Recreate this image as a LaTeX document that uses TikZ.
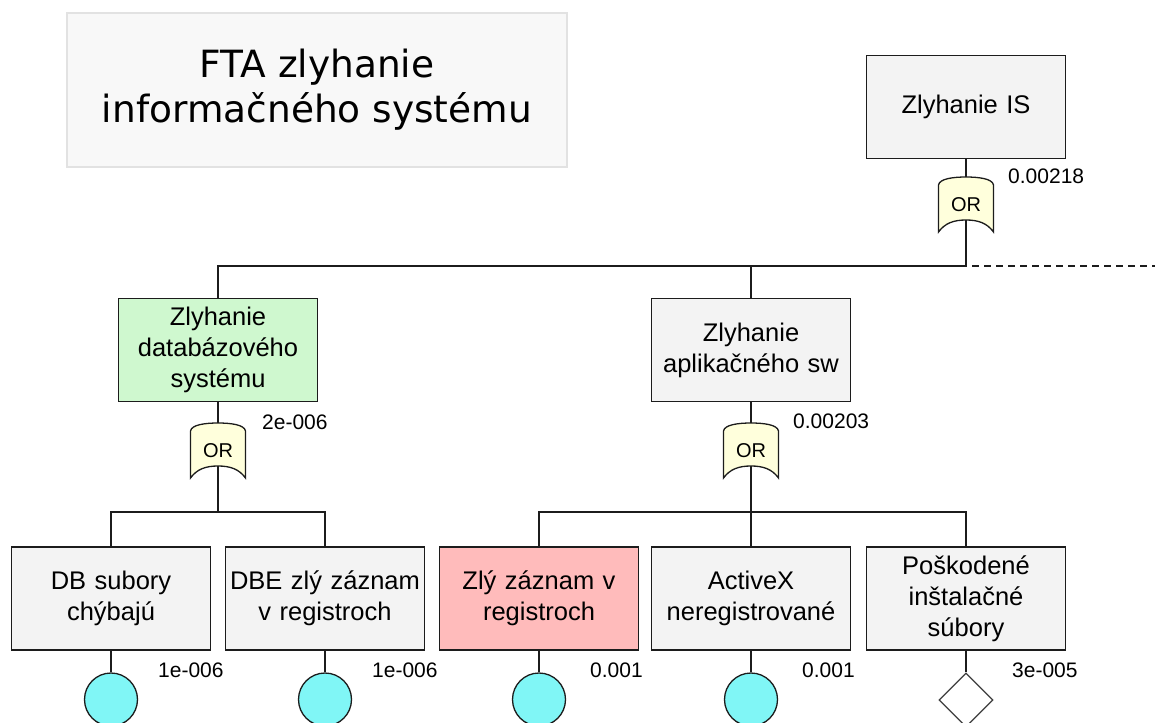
\documentclass[tikz,border=0pt]{standalone}
\usepackage{fontspec}
\setmainfont{Liberation Sans}
\newfontfamily\titlefont{DejaVu Sans}
\usetikzlibrary{shapes.geometric}
\definecolor{eventgray}{HTML}{F3F3F3}
\definecolor{eventgreen}{HTML}{CFF8CF}
\definecolor{eventpink}{HTML}{FFBBBB}
\definecolor{titlefill}{HTML}{F8F8F8}
\definecolor{titleedge}{HTML}{E2E2E2}
\definecolor{gatefill}{HTML}{FFFFDC}
\definecolor{basicfill}{HTML}{80F6F6}
\definecolor{ink}{HTML}{1C1C1C}

\tikzset{
  titlebox/.style={draw=titleedge, line width=1.5pt, fill=titlefill,
    minimum width=500pt, minimum height=154pt, align=center,
    font=\titlefont\fontsize{37.5}{45}\selectfont},
  event/.style={draw=ink, line width=1.8pt, fill=eventgray,
    text width=196pt, inner xsep=1.5pt, inner ysep=0pt, minimum height=103pt,
    align=center, font=\fontsize{25.5}{31}\selectfont},
  basic/.style={circle, draw=ink, line width=1.3pt, fill=basicfill,
    minimum size=53pt, inner sep=0pt},
  house/.style={diamond, draw=ink!85, line width=1.3pt, fill=white,
    minimum size=54pt, inner sep=0pt, aspect=1},
  prob/.style={anchor=west, inner sep=0pt, font=\fontsize{21}{24}\selectfont},
  wire/.style={draw=ink, line width=1.8pt},
  gatebody/.style={draw=ink, line width=1.3pt, fill=gatefill},
  gatelabel/.style={inner sep=0pt, font=\fontsize{20}{22}\selectfont},
  orgate/.pic={
    \draw[gatebody] (-27.5,8) .. controls (-26.5,1.5) and (-12,0) .. (0,0)
      .. controls (12,0) and (26.5,1.5) .. (27.5,8) -- (27.5,55)
      .. controls (21,46) and (12,43) .. (0,43)
      .. controls (-12,43) and (-21,46) .. (-27.5,55) -- cycle;
    \node[gatelabel] (-label) at (0,28) {OR};
    \coordinate (-in) at (0,0);
    \coordinate (-out) at (0,43);
  }
}

\begin{document}
\begin{tikzpicture}[x=1pt, y=-1pt]
\useasboundingbox (0,0) rectangle (1155,722);
\clip (0,0) rectangle (1155,722);

% heading
\node[titlebox] (title) at (317,90) {FTA zlyhanie\\informačného systému};

% top event and its gate
\node[event] (top) at (966,107) {Zlyhanie IS};
\pic (g0) at (966,177) {orgate};
\node[prob] (p0) at (1008,176) {0.00218};

% intermediate events
\node[event, fill=eventgreen] (m1) at (218,350) {Zlyhanie\\databázového\\systému};
\node[event] (m2) at (751,350) {Zlyhanie\\aplikačného sw};
\pic (g1) at (218,423) {orgate};
\pic (g2) at (751,423) {orgate};
\node[prob] (p1) at (262,422) {2e-006};
\node[prob] (p2) at (793,421) {0.00203};

% lowest level events
\node[event] (b1) at (111,598.5) {DB subory\\chýbajú};
\node[event] (b2) at (325,598.5) {DBE zlý záznam\\v registroch};
\node[event, fill=eventpink] (b3) at (539,598.5) {Zlý záznam v\\registroch};
\node[event] (b4) at (751,598.5) {ActiveX\\neregistrované};
\node[event] (b5) at (966,598.5) {Poškodené\\inštalačné\\súbory};

\node[basic] (e1) at (111,699.5) {};
\node[basic] (e2) at (325,699.5) {};
\node[basic] (e3) at (539,699.5) {};
\node[basic] (e4) at (751,699.5) {};
\node[house] (e5) at (966,700) {};

\node[prob] (q1) at (158,670) {1e-006};
\node[prob] (q2) at (372,670) {1e-006};
\node[prob] (q3) at (590,670) {0.001};
\node[prob] (q4) at (802,670) {0.001};
\node[prob] (q5) at (1012,670) {3e-005};

% junctions of the branch bars
\coordinate (j0) at (966,266);
\coordinate (jend) at (1155,266);
\coordinate (j1) at (218,512);
\coordinate (j2) at (751,512);

% connectors
\draw[wire] (top.south) -- (g0-in);
\draw[wire] (g0-out) -- (j0) -| (m1.north);
\draw[wire] (j0) -| (m2.north);
\draw[wire, dash pattern=on 7pt off 5pt] (j0) ++(6,0) -- (jend);

\draw[wire] (m1.south) -- (g1-in);
\draw[wire] (g1-out) -- (j1) -| (b1.north);
\draw[wire] (j1) -| (b2.north);

\draw[wire] (m2.south) -- (g2-in);
\draw[wire] (g2-out) -- (j2) -| (b3.north);
\draw[wire] (j2) -| (b5.north);
\draw[wire] (j2) -- (b4.north);

\draw[wire] (b1.south) -- (e1.north);
\draw[wire] (b2.south) -- (e2.north);
\draw[wire] (b3.south) -- (e3.north);
\draw[wire] (b4.south) -- (e4.north);
\draw[wire] (b5.south) -- (e5.north);
\end{tikzpicture}
\end{document}
